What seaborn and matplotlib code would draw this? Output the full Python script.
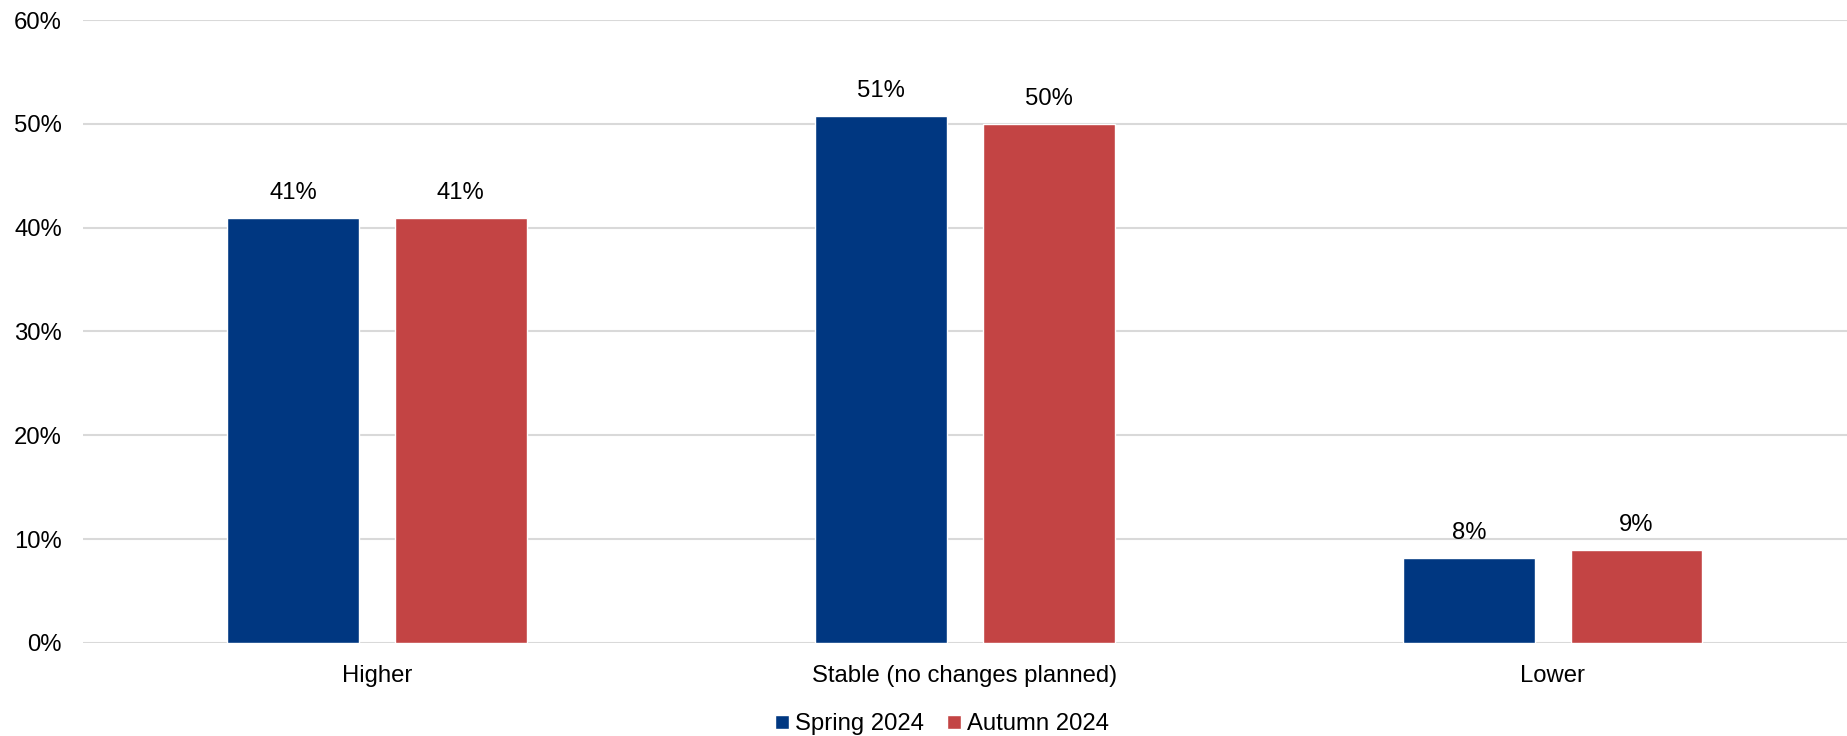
import matplotlib
matplotlib.use("Agg")
import matplotlib.pyplot as plt
import seaborn as sns
import pandas as pd
from matplotlib.ticker import FuncFormatter

categories = ["Higher", "Stable (no changes planned)", "Lower"]
spring_2024 = [40.9, 50.8, 8.2]
autumn_2024 = [40.9, 50.0, 9.0]
series_names = ["Spring 2024", "Autumn 2024"]
colors = ["#003781", "#C34444"]

df = pd.DataFrame({
    "category": categories * 2,
    "value": spring_2024 + autumn_2024,
    "series": [series_names[0]] * 3 + [series_names[1]] * 3,
})

sns.set_theme(style="white")
plt.rcParams["font.family"] = ["Liberation Sans", "DejaVu Sans"]

FS = 17.2

fig = plt.figure(figsize=(18.47, 7.36), dpi=100)
ax = fig.add_axes([0.0449, 0.1264, 0.955, 0.8464])

sns.barplot(data=df, x="category", y="value", hue="series", palette=colors,
            width=0.57, gap=0.214, ax=ax, legend=True, saturation=1)

ax.set_ylim(0, 60)
ax.set_xlim(-0.5, 2.5)
ax.set_yticks(range(0, 61, 10))
ax.yaxis.set_major_formatter(FuncFormatter(lambda v, p: f"{int(v)}%"))
ax.grid(axis="y", color="#d9d9d9", linewidth=1.5)
ax.set_axisbelow(True)
for s in ax.spines.values():
    s.set_visible(False)
ax.tick_params(axis="both", length=0, labelsize=FS, colors="black")
ax.tick_params(axis="y", pad=15)
ax.tick_params(axis="x", pad=16)
ax.set_xlabel("")
ax.set_ylabel("")

for cont in ax.containers:
    ax.bar_label(cont, labels=[f"{round(v)}%" for v in cont.datavalues],
                 padding=10, fontsize=FS, color="black")

handles, labels = ax.get_legend_handles_labels()
ax.legend(handles, labels, loc="upper center", bbox_to_anchor=(0.510, 0.031),
          bbox_transform=fig.transFigure,
          ncol=2, frameon=False, fontsize=FS, labelcolor="black",
          handlelength=0.55, handleheight=0.55, handletextpad=0.25,
          columnspacing=1.0, borderpad=0, borderaxespad=0)

fig.savefig("out.png", dpi=100)
